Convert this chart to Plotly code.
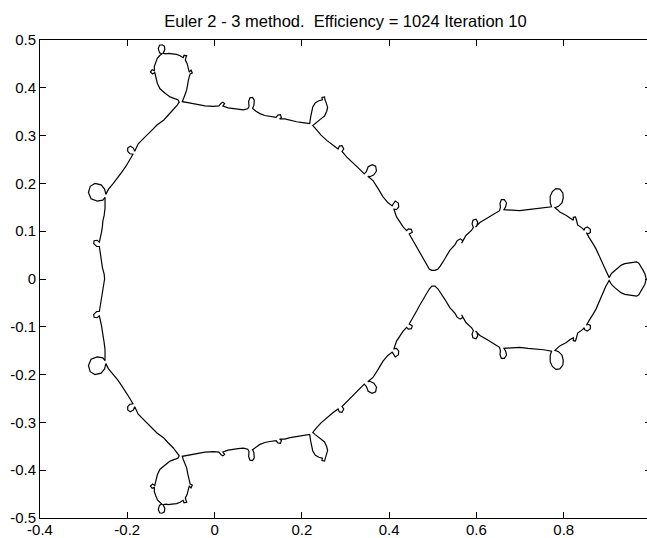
import plotly.graph_objects as go

title_text = "Euler 2 - 3 method.&nbsp; Efficiency = 1024 Iteration 10"

x_tick_values = [-0.4, -0.2, 0.0, 0.2, 0.4, 0.6, 0.8, 1.0]
x_tick_labels = ["-0.4", "-0.2", "0", "0.2", "0.4", "0.6", "0.8", "1"]
y_tick_values = [-0.5, -0.4, -0.3, -0.2, -0.1, 0.0, 0.1, 0.2, 0.3, 0.4, 0.5]
y_tick_labels = ["-0.5", "-0.4", "-0.3", "-0.2", "-0.1", "0", "0.1", "0.2", "0.3", "0.4", "0.5"]

# x positions of the traced boundary (left -> right), shared by both halves
x_curve = [
    -0.252, -0.253, -0.257, -0.259, -0.261, -0.264, -0.270, -0.277, -0.276, -0.269,
    -0.264, -0.261, -0.259, -0.257, -0.256, -0.253, -0.251, -0.251, -0.251, -0.256,
    -0.269, -0.283, -0.289, -0.285, -0.274, -0.260, -0.252, -0.249, -0.243, -0.232,
    -0.222, -0.213, -0.203, -0.194, -0.187, -0.194, -0.199, -0.199, -0.193, -0.186,
    -0.183, -0.180, -0.175, -0.166, -0.155, -0.144, -0.132, -0.117, -0.107, -0.095,
    -0.086, -0.081, -0.084, -0.093, -0.102, -0.114, -0.125, -0.131, -0.134, -0.137,
    -0.142, -0.147, -0.143, -0.138, -0.138, -0.135, -0.131, -0.125, -0.121, -0.126,
    -0.129, -0.126, -0.120, -0.115, -0.114, -0.118, -0.111, -0.106, -0.098, -0.087,
    -0.079, -0.072, -0.070, -0.064, -0.066, -0.067, -0.063, -0.060, -0.058, -0.054,
    -0.051, -0.056, -0.058, -0.060, -0.062, -0.064, -0.068, -0.072, -0.074, -0.061,
    -0.041, -0.022, -0.003, 0.010, 0.015, 0.019, 0.023, 0.019, 0.031, 0.043,
    0.054, 0.066, 0.076, 0.079, 0.078, 0.081, 0.087, 0.091, 0.090, 0.087,
    0.095, 0.104, 0.115, 0.127, 0.141, 0.145, 0.151, 0.153, 0.149, 0.161,
    0.173, 0.188, 0.202, 0.218, 0.220, 0.222, 0.225, 0.231, 0.239, 0.247,
    0.246, 0.252, 0.253, 0.256, 0.259, 0.257, 0.252, 0.245, 0.237, 0.230,
    0.225, 0.230, 0.234, 0.244, 0.257, 0.271, 0.283, 0.286, 0.292, 0.296,
    0.292, 0.303, 0.318, 0.331, 0.343, 0.348, 0.352, 0.361, 0.369, 0.371,
    0.365, 0.356, 0.351, 0.363, 0.374, 0.386, 0.397, 0.407, 0.410, 0.414,
    0.421, 0.422, 0.417, 0.411, 0.417, 0.425, 0.432, 0.440, 0.444, 0.451,
    0.453, 0.446, 0.454, 0.463, 0.470, 0.478, 0.485, 0.492, 0.498, 0.505,
    0.512, 0.517, 0.528, 0.539, 0.551, 0.556, 0.563, 0.569, 0.566, 0.576,
    0.589, 0.593, 0.590, 0.592, 0.599, 0.603, 0.601, 0.598, 0.608, 0.623,
    0.638, 0.653, 0.655, 0.654, 0.657, 0.664, 0.669, 0.667, 0.663, 0.677,
    0.699, 0.718, 0.738, 0.754, 0.772, 0.769, 0.769, 0.774, 0.782, 0.791,
    0.798, 0.799, 0.796, 0.788, 0.780, 0.787, 0.791, 0.806, 0.814, 0.822,
    0.822, 0.827, 0.829, 0.832, 0.843, 0.847, 0.848, 0.854, 0.861, 0.861,
    0.855, 0.852, 0.858, 0.862, 0.867, 0.874, 0.879, 0.884, 0.890, 0.896,
    0.904, 0.910, 0.917, 0.924, 0.932, 0.940, 0.948, 0.956, 0.967, 0.972,
    0.978, 0.982, 0.986, 0.989,
]

# upper half of the boundary
y_upper = [
    0.000, 0.010, 0.024, 0.037, 0.052, 0.068, 0.068, 0.074, 0.080, 0.081,
    0.077, 0.087, 0.098, 0.110, 0.121, 0.133, 0.148, 0.163, 0.171, 0.165,
    0.163, 0.168, 0.181, 0.194, 0.200, 0.197, 0.188, 0.177, 0.188, 0.200,
    0.211, 0.223, 0.236, 0.250, 0.261, 0.262, 0.267, 0.274, 0.278, 0.274,
    0.267, 0.273, 0.283, 0.291, 0.302, 0.311, 0.322, 0.332, 0.342, 0.353,
    0.363, 0.370, 0.375, 0.378, 0.381, 0.389, 0.398, 0.409, 0.423, 0.432,
    0.429, 0.433, 0.438, 0.436, 0.445, 0.453, 0.462, 0.468, 0.471, 0.473,
    0.482, 0.489, 0.490, 0.487, 0.480, 0.472, 0.471, 0.472, 0.471, 0.470,
    0.467, 0.463, 0.468, 0.467, 0.462, 0.458, 0.451, 0.442, 0.433, 0.437,
    0.431, 0.429, 0.424, 0.416, 0.405, 0.395, 0.385, 0.377, 0.371, 0.369,
    0.365, 0.362, 0.361, 0.362, 0.368, 0.370, 0.367, 0.362, 0.358, 0.357,
    0.355, 0.354, 0.356, 0.361, 0.371, 0.379, 0.380, 0.374, 0.363, 0.357,
    0.351, 0.346, 0.342, 0.340, 0.338, 0.343, 0.344, 0.338, 0.335, 0.335,
    0.332, 0.329, 0.327, 0.325, 0.338, 0.349, 0.360, 0.369, 0.373, 0.375,
    0.380, 0.381, 0.375, 0.368, 0.359, 0.351, 0.341, 0.336, 0.330, 0.325,
    0.321, 0.316, 0.311, 0.301, 0.290, 0.280, 0.272, 0.278, 0.279, 0.272,
    0.267, 0.255, 0.241, 0.231, 0.220, 0.225, 0.235, 0.239, 0.236, 0.226,
    0.218, 0.214, 0.215, 0.206, 0.190, 0.172, 0.160, 0.153, 0.158, 0.163,
    0.159, 0.151, 0.145, 0.146, 0.130, 0.119, 0.109, 0.101, 0.105, 0.104,
    0.098, 0.094, 0.081, 0.067, 0.055, 0.043, 0.031, 0.021, 0.018, 0.018,
    0.021, 0.027, 0.043, 0.060, 0.072, 0.080, 0.084, 0.080, 0.075, 0.091,
    0.102, 0.108, 0.115, 0.123, 0.125, 0.119, 0.111, 0.109, 0.118, 0.126,
    0.134, 0.143, 0.150, 0.158, 0.166, 0.166, 0.159, 0.151, 0.145, 0.144,
    0.143, 0.145, 0.147, 0.148, 0.151, 0.160, 0.173, 0.183, 0.189, 0.188,
    0.180, 0.170, 0.159, 0.152, 0.149, 0.144, 0.140, 0.133, 0.127, 0.123,
    0.129, 0.130, 0.124, 0.113, 0.106, 0.102, 0.106, 0.109, 0.104, 0.097,
    0.094, 0.097, 0.087, 0.080, 0.074, 0.063, 0.053, 0.043, 0.029, 0.016,
    0.003, 0.012, 0.018, 0.024, 0.029, 0.032, 0.033, 0.035, 0.036, 0.033,
    0.025, 0.018, 0.011, 0.000,
]

# lower half of the boundary (same x positions)
y_lower = [
    0.000, -0.010, -0.024, -0.037, -0.052, -0.068, -0.068, -0.074, -0.080, -0.081,
    -0.077, -0.087, -0.098, -0.110, -0.121, -0.133, -0.148, -0.163, -0.171, -0.165,
    -0.163, -0.168, -0.181, -0.194, -0.200, -0.197, -0.188, -0.177, -0.188, -0.200,
    -0.211, -0.223, -0.236, -0.250, -0.261, -0.262, -0.267, -0.274, -0.278, -0.274,
    -0.267, -0.273, -0.283, -0.291, -0.302, -0.311, -0.322, -0.332, -0.342, -0.353,
    -0.363, -0.370, -0.375, -0.378, -0.381, -0.389, -0.398, -0.409, -0.423, -0.432,
    -0.429, -0.433, -0.438, -0.436, -0.445, -0.453, -0.462, -0.468, -0.471, -0.473,
    -0.482, -0.489, -0.490, -0.487, -0.480, -0.472, -0.471, -0.472, -0.471, -0.470,
    -0.467, -0.463, -0.468, -0.467, -0.462, -0.458, -0.451, -0.442, -0.433, -0.437,
    -0.431, -0.429, -0.424, -0.416, -0.405, -0.395, -0.385, -0.377, -0.371, -0.369,
    -0.365, -0.362, -0.361, -0.362, -0.368, -0.370, -0.367, -0.362, -0.358, -0.357,
    -0.355, -0.354, -0.356, -0.361, -0.371, -0.379, -0.380, -0.374, -0.363, -0.357,
    -0.351, -0.346, -0.342, -0.340, -0.338, -0.343, -0.344, -0.338, -0.335, -0.335,
    -0.332, -0.329, -0.327, -0.325, -0.338, -0.349, -0.360, -0.369, -0.373, -0.375,
    -0.380, -0.381, -0.375, -0.368, -0.359, -0.351, -0.341, -0.336, -0.330, -0.325,
    -0.321, -0.316, -0.311, -0.301, -0.290, -0.280, -0.272, -0.278, -0.279, -0.272,
    -0.267, -0.255, -0.241, -0.231, -0.220, -0.225, -0.235, -0.239, -0.236, -0.226,
    -0.218, -0.214, -0.215, -0.206, -0.190, -0.172, -0.160, -0.153, -0.158, -0.163,
    -0.159, -0.151, -0.145, -0.146, -0.130, -0.119, -0.109, -0.101, -0.105, -0.104,
    -0.098, -0.094, -0.081, -0.067, -0.055, -0.043, -0.031, -0.021, -0.015, -0.015,
    -0.021, -0.027, -0.043, -0.060, -0.072, -0.080, -0.084, -0.080, -0.075, -0.091,
    -0.102, -0.108, -0.115, -0.123, -0.125, -0.119, -0.111, -0.109, -0.118, -0.126,
    -0.134, -0.143, -0.150, -0.158, -0.166, -0.166, -0.159, -0.151, -0.145, -0.144,
    -0.143, -0.145, -0.147, -0.148, -0.151, -0.160, -0.173, -0.183, -0.189, -0.188,
    -0.180, -0.170, -0.159, -0.152, -0.149, -0.144, -0.140, -0.133, -0.127, -0.123,
    -0.129, -0.130, -0.124, -0.113, -0.106, -0.102, -0.106, -0.109, -0.104, -0.097,
    -0.094, -0.097, -0.087, -0.080, -0.074, -0.063, -0.053, -0.043, -0.029, -0.016,
    -0.003, -0.012, -0.018, -0.024, -0.029, -0.032, -0.033, -0.035, -0.036, -0.033,
    -0.025, -0.018, -0.011, 0.000,
]

n = min(len(x_curve), len(y_upper), len(y_lower))
xs = x_curve[:n] + x_curve[:n][::-1]
ys = y_upper[:n] + y_lower[:n][::-1]

fig = go.Figure(
    go.Scatter(x=xs, y=ys, mode="lines",
               line=dict(color="black", width=1.2),
               hoverinfo="skip", showlegend=False)
)

tick_font = dict(family="Liberation Sans, Arial, sans-serif", size=15, color="black")
axis_common = dict(
    ticks="inside", ticklen=6, tickwidth=1, tickcolor="black",
    showline=True, linecolor="black", linewidth=1, mirror="ticks",
    showgrid=False, zeroline=False, automargin=False, tickfont=tick_font,
)

fig.update_xaxes(range=[-0.4, 1.0], tickmode="array",
                 tickvals=x_tick_values, ticktext=x_tick_labels,
                 ticklabelstandoff=-2, **axis_common)
fig.update_yaxes(range=[-0.5, 0.5], tickmode="array",
                 tickvals=y_tick_values, ticktext=y_tick_labels, **axis_common)

fig.update_layout(
    width=652, height=538,
    margin=dict(l=40, r=1, t=40, b=20, pad=0),
    paper_bgcolor="white", plot_bgcolor="white",
    font=dict(family="Liberation Sans, Arial, sans-serif", size=15, color="black"),
    title=dict(text=title_text, xref="paper", x=0.5, xanchor="center",
               yref="container", y=1 - 21 / 538, yanchor="middle",
               font=dict(family="Liberation Sans, Arial, sans-serif", size=16.5, color="black")),
    showlegend=False,
)

fig.write_html(
    "out.html",
    config={"displayModeBar": False},
    post_script="document.body.style.margin='0';document.body.style.overflow='hidden';document.documentElement.style.overflow='hidden';",
)
